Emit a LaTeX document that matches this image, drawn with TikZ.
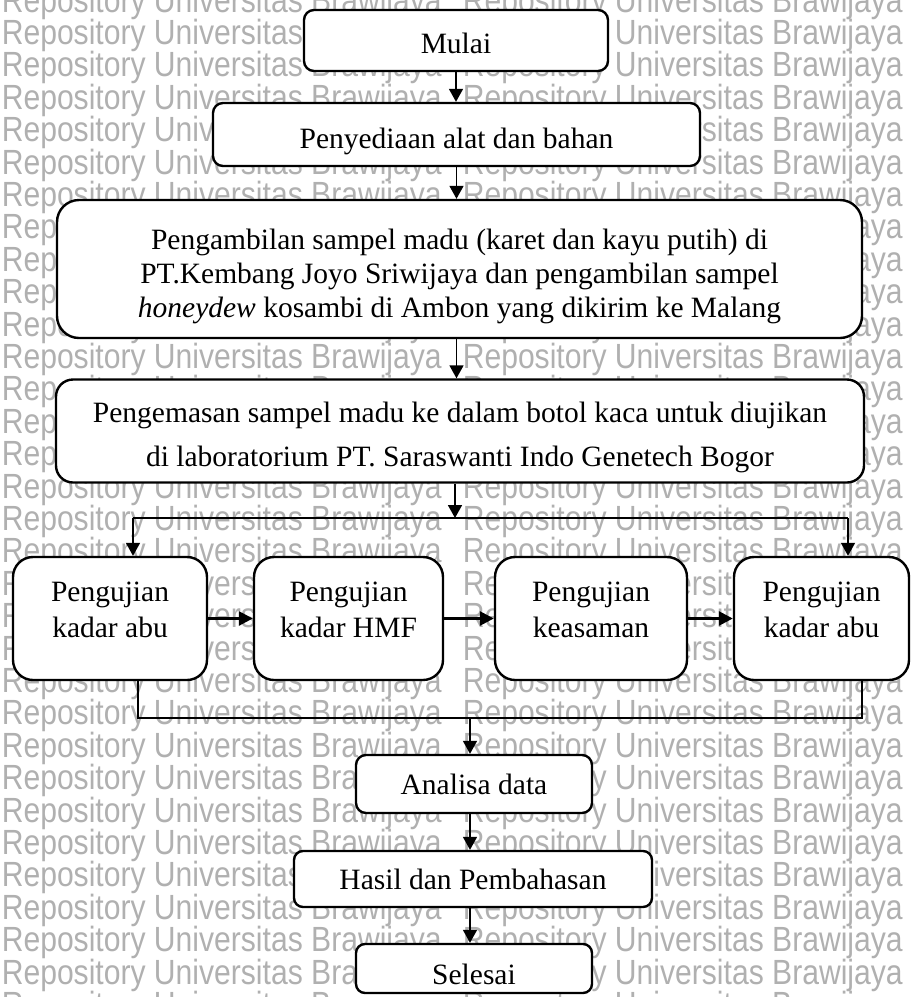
\documentclass[tikz,border=0pt]{standalone}
\usepackage{fontspec}
\setmainfont{Liberation Serif}
\newfontfamily\wmfont[FakeStretch=0.86]{Liberation Sans}
\usetikzlibrary{arrows.meta}

\begin{document}
\begin{tikzpicture}[x=1pt, y=-1pt, line width=1.6pt,
      every node/.append style={font=\fontsize{29.5}{34}\selectfont, inner sep=0pt},
      box/.style={draw, line width=2.4pt, fill=white, align=center},
      arr/.style={-{Triangle[length=13pt,width=14pt]}, line width=1.7pt},
      harr/.style={-{Triangle[length=14pt,width=14pt]}, line width=2.8pt},
      thin line/.style={line width=1.1pt}]
	  \tikzstyle{wm} = [font=\wmfont\fontsize{35}{35}\selectfont, text=black!31, anchor=west]
	  \tikzstyle{uji} = [box, minimum height=123, rounded corners=20, font=\fontsize{29.5}{36}\selectfont, text height=39pt]
	  \useasboundingbox (0,0) rectangle (911,997);
	  % watermark
	  \foreach \r in {0,...,31}
	    {\node (wmL\r) [wm] at ({1},{3+32.4*\r}) {Repository Universitas Brawijaya};
	     \node (wmR\r) [wm] at ({462},{3+32.4*\r}) {Repository Universitas Brawijaya};}
	  % flow
	  \node (mulai) [box, minimum width=304, minimum height=61, rounded corners=10, text height=25pt, text depth=0pt] at (456,40.5) {Mulai};
	  \node (siapkan) [box, minimum width=487, minimum height=63, rounded corners=10, text height=33pt, text depth=6pt] at (456.5,134.5) {Penyediaan alat dan bahan};
	  \node (ambil) [box, minimum width=805, minimum height=138, rounded corners=22, text height=104pt] at (459.5,269)
	    {Pengambilan sampel madu (karet dan kayu putih) di\\
	     PT.Kembang Joyo Sriwijaya dan pengambilan sampel\\
	     \textit{honeydew} kosambi di Ambon yang dikirim ke Malang};
	  \node (kemas) [box, minimum width=808, minimum height=103, rounded corners=17, text height=78pt, font=\fontsize{29.5}{44}\selectfont] at (460,431)
	    {Pengemasan sampel madu ke dalam botol kaca untuk diujikan\\
	     di laboratorium PT. Saraswanti Indo Genetech Bogor};
	  \node (uji1) [uji, minimum width=194] at (110,618.5) {Pengujian\\kadar abu};
	  \node (uji2) [uji, minimum width=189] at (348.5,618.5) {Pengujian\\kadar HMF};
	  \node (uji3) [uji, minimum width=192] at (591,618.5) {Pengujian\\keasaman};
	  \node (uji4) [uji, minimum width=175] at (821.5,618.5) {Pengujian\\kadar abu};
	  \node (analisa) [box, minimum width=236, minimum height=58, rounded corners=10] at (474,784) {Analisa data};
	  \node (hasil) [box, minimum width=358, minimum height=56, rounded corners=9] at (473,879) {Hasil dan Pembahasan};
	  \node (selesai) [box, minimum width=236, minimum height=49, rounded corners=9, text height=31pt, text depth=0pt] at (474,968.5) {Selesai};
	  % split and join
	  \coordinate (split) at (455,518);
	  \coordinate (splitL) at (133,518);
	  \coordinate (splitR) at (848,518);
	  \coordinate (joinL) at (138,718);
	  \coordinate (joinR) at (862,718);
	  \coordinate (join) at (470,718);
	  \draw[arr] (mulai.south) -- (mulai.south |- siapkan.north);
	  \draw[arr] (siapkan.south) -- (siapkan.south |- ambil.north);
	  \draw[arr] (ambil.south -| siapkan.south) -- (kemas.north -| siapkan.south);
	  \draw[arr] (kemas.south -| split) -- (split);
	  \draw[thin line] (splitL) -- (splitR);
	  \draw[arr] (splitL) -- (splitL |- uji1.north);
	  \draw[arr] (splitR) -- (splitR |- uji4.north);
	  \draw[harr] (uji1) -- (uji2);
	  \draw[harr] (uji2) -- (uji3);
	  \draw[harr] (uji3) -- (uji4);
	  \draw[thin line] (uji1.south -| joinL) -- (joinL) -- (joinR) -- (uji4.south -| joinR);
	  \draw[arr] (join) -- (join |- analisa.north);
	  \draw[arr] (analisa.south -| join) -- (hasil.north -| join);
	  \draw[arr] (hasil.south -| join) -- (selesai.north -| join);
	\end{tikzpicture}
\end{document}
